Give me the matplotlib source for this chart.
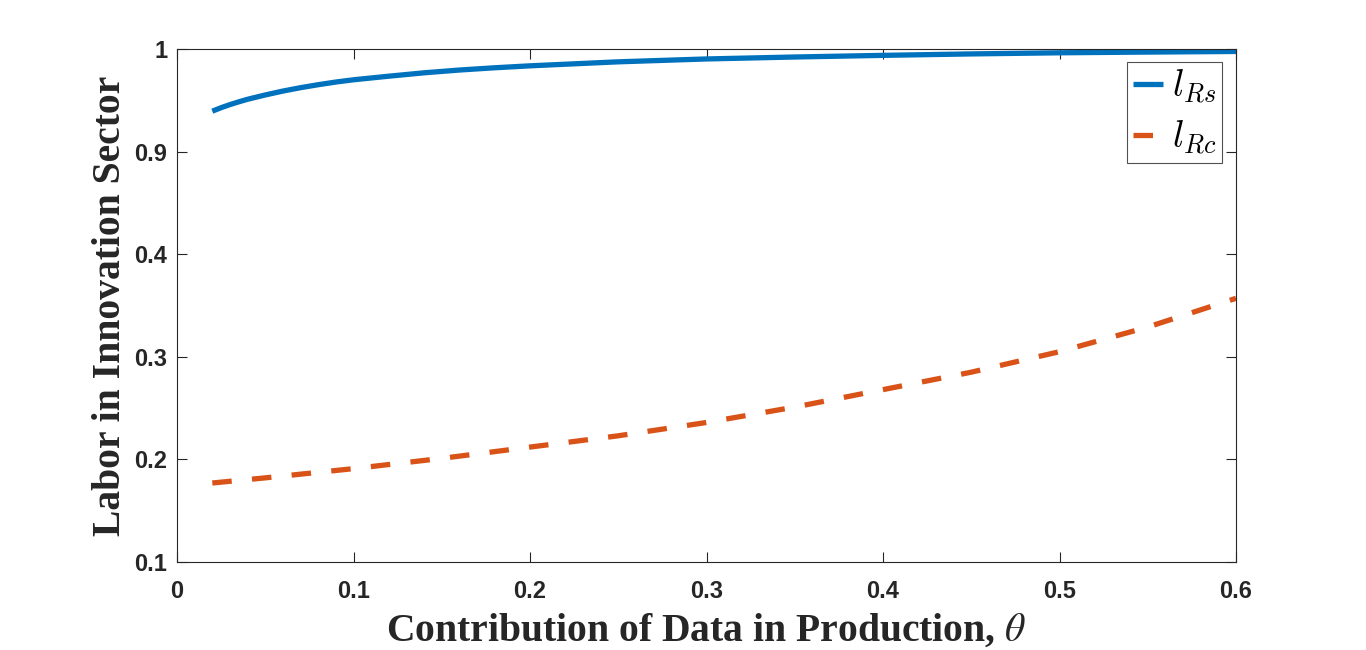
"""Labor in innovation sector vs data contribution (broken y axis, MATLAB look)."""
import numpy as np
import matplotlib
matplotlib.use('Agg')
import matplotlib.pyplot as plt
from matplotlib.font_manager import FontProperties

theta_s = [0.02, 0.025, 0.03, 0.035, 0.04, 0.05, 0.06, 0.07, 0.08, 0.09, 0.10, 0.12, 0.14, 0.16,
           0.18, 0.20, 0.25, 0.30, 0.35, 0.40, 0.45, 0.50, 0.55, 0.60]
l_rs = [0.9394, 0.9428, 0.9458, 0.9485, 0.9510, 0.9552, 0.9590, 0.9623, 0.9652, 0.9678, 0.9700,
        0.9735, 0.9768, 0.9795, 0.9817, 0.9836, 0.9875, 0.9903, 0.9922, 0.9938, 0.9952, 0.9963,
        0.9970, 0.9976]
theta_c = [0.02, 0.05, 0.10, 0.15, 0.20, 0.25, 0.30, 0.35, 0.40, 0.45, 0.50, 0.55, 0.60]
l_rc = [0.177, 0.182, 0.191, 0.201, 0.212, 0.223, 0.236, 0.251, 0.268, 0.285, 0.305, 0.329, 0.357]

yticks = [0.1, 0.2, 0.3, 0.4, 0.9, 1.0]
yticklabels = ['0.1', '0.2', '0.3', '0.4', '0.9', '1']
xticks = [0, 0.1, 0.2, 0.3, 0.4, 0.5, 0.6]
xticklabels = ['0', '0.1', '0.2', '0.3', '0.4', '0.5', '0.6']

BLUE = '#0072BD'; RED = '#D95319'; AX = '#262626'


# the gap 0.4..0.9 is squeezed into one tick interval
def fwd(y):
    y = np.asarray(y, dtype=float)
    return np.where(y <= 0.4, y, np.where(y >= 0.9, y - 0.4, 0.4 + (y - 0.4) * 0.2))


def inv(u):
    u = np.asarray(u, dtype=float)
    return np.where(u <= 0.4, u, np.where(u >= 0.5, u + 0.4, 0.4 + (u - 0.4) * 5.0))


plt.rcParams['mathtext.fontset'] = 'cm'
fig = plt.figure(figsize=(13.66, 6.5), dpi=100)
ax = fig.add_axes([177/1366, 88/650, 1059/1366, 513/650])
ax.set_yscale('function', functions=(fwd, inv))

ax.plot(theta_s, l_rs, color=BLUE, lw=3.8, solid_capstyle='butt', solid_joinstyle='round', label=r'$l_{Rs}$')
ax.plot(theta_c, l_rc, color=RED, lw=3.8, dashes=(3.7, 3.85), dash_capstyle='butt', label=r'$l_{Rc}$')

ax.set_xlim(0, 0.6)
ax.set_ylim(0.1, 1.0)
ax.set_xticks(xticks, xticklabels)
ax.set_yticks(yticks, yticklabels)
ax.minorticks_off()
ax.tick_params(direction='in', length=7, width=0.8, color=AX, top=True, right=True,
               labelsize=17, labelcolor=AX)
ax.tick_params(axis='x', pad=13)
ax.tick_params(axis='y', pad=7)
for lab in ax.get_xticklabels() + ax.get_yticklabels():
    lab.set_fontfamily('Liberation Sans'); lab.set_fontweight('bold')
for s in ax.spines.values():
    s.set_color(AX); s.set_linewidth(0.8)

lfont = FontProperties(family='Liberation Serif', weight='bold', size=28.5, math_fontfamily='stix')
ax.set_xlabel(r'Contribution of Data in Production, $\theta$', color=AX, labelpad=7, fontproperties=lfont)
ax.set_ylabel('Labor in Innovation Sector', color=AX, labelpad=4, fontproperties=lfont)

leg = ax.legend(loc='upper right', bbox_to_anchor=(0.9868, 0.9747), borderaxespad=0,
                fancybox=False, frameon=True, edgecolor=AX, fontsize=27,
                handlelength=0.8, handletextpad=0.25, borderpad=0.15, labelspacing=0.35)
leg.get_frame().set_linewidth(0.8)

fig.savefig('out.png', dpi=100)
